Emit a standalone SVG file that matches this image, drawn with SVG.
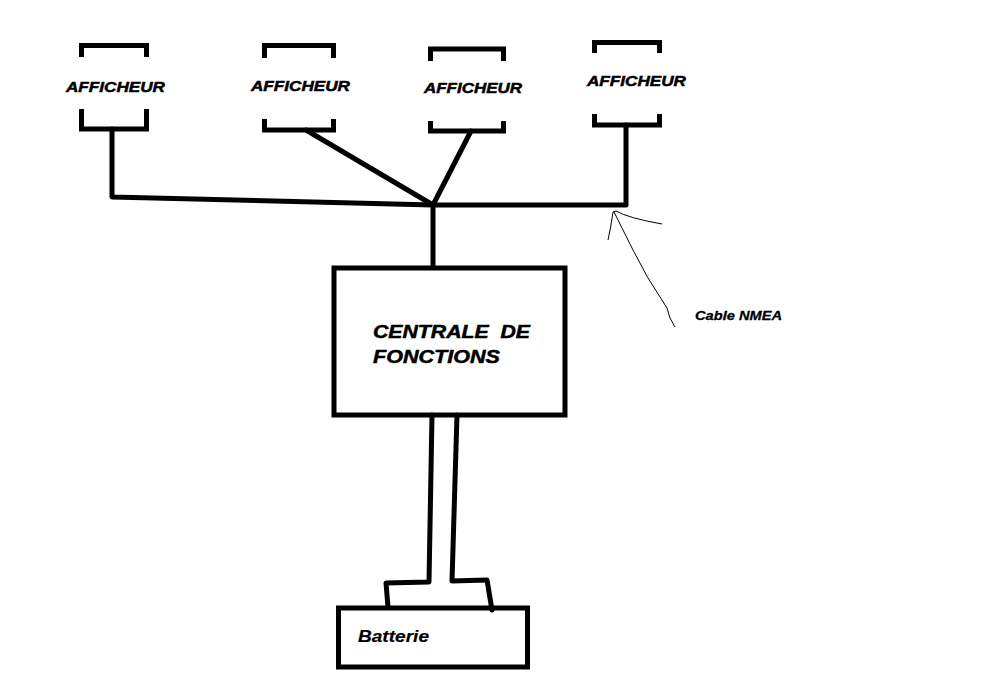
<svg xmlns="http://www.w3.org/2000/svg" width="987" height="674" viewBox="0 0 987 674">
<style>
.w{fill:none;stroke:#000;stroke-width:5;stroke-linejoin:miter}
.r{stroke-linecap:round;stroke-linejoin:round}
.t{font-family:"Liberation Sans",Arial,sans-serif;font-weight:bold;font-style:italic;fill:#000;stroke:#000;stroke-width:0.5}
.thin{fill:none;stroke:#000;stroke-width:1}
</style>
<rect width="987" height="674" fill="#fff"/>
<g id="afficheur1">
<path class="w" d="M81.5,57 V45.5 H146.5 V57 M81.5,109 V129 H146.5 V109"/>
<text class="t" x="66" y="92" font-size="15.5" textLength="99" lengthAdjust="spacingAndGlyphs">AFFICHEUR</text>
</g>
<g id="afficheur2">
<path class="w" d="M264.5,58 V45.5 H333.5 V58 M264.5,119 V130 H333.5 V119"/>
<text class="t" x="251" y="91" font-size="15.5" textLength="99" lengthAdjust="spacingAndGlyphs">AFFICHEUR</text>
</g>
<g id="afficheur3">
<path class="w" d="M430.5,61 V49 H503.5 V61 M430.5,121 V131 H503.5 V121"/>
<text class="t" x="424" y="93" font-size="15.5" textLength="98" lengthAdjust="spacingAndGlyphs">AFFICHEUR</text>
</g>
<g id="afficheur4">
<path class="w" d="M594.5,53 V42.5 H659.5 V53 M594.5,114 V125 H659.5 V114"/>
<text class="t" x="587" y="86" font-size="15.5" textLength="99" lengthAdjust="spacingAndGlyphs">AFFICHEUR</text>
</g>
<g id="centrale">
<rect class="w" x="334" y="268" width="231" height="147"/>
<text class="t" x="373" y="338" font-size="18" textLength="157" lengthAdjust="spacingAndGlyphs" xml:space="preserve">CENTRALE  DE</text>
<text class="t" x="373" y="363" font-size="18" textLength="127" lengthAdjust="spacingAndGlyphs">FONCTIONS</text>
</g>
<g id="batterie">
<rect class="w" x="338.5" y="608" width="189" height="59"/>
<text class="t" x="358" y="642" font-size="17" textLength="71" lengthAdjust="spacingAndGlyphs" style="stroke-width:0.2">Batterie</text>
</g>
<g id="connectors">
<path class="w r" d="M112,129 V197 L433,205 L626,205 V125"/>
<path class="w r" d="M306,130 L433,205 L471,131"/>
<path class="w" d="M433,205 V268"/>
<path class="w r" d="M432,415 L429,582 L386,583 L388,607"/>
<path class="w r" d="M457,415 L452,581 L487,580 L492,610"/>
</g>
<g id="cable-label">
<path class="thin" d="M608,240 L611,225 L613,212 L616,211 Q628,218 662,224"/>
<path class="thin" d="M614,212 L633,250 L648,278 L667,308 L670,318 L675,327"/>
<text class="t" x="695" y="320" font-size="12.5" textLength="87" lengthAdjust="spacingAndGlyphs" style="stroke-width:0.3">Cable NMEA</text>
</g>
</svg>
